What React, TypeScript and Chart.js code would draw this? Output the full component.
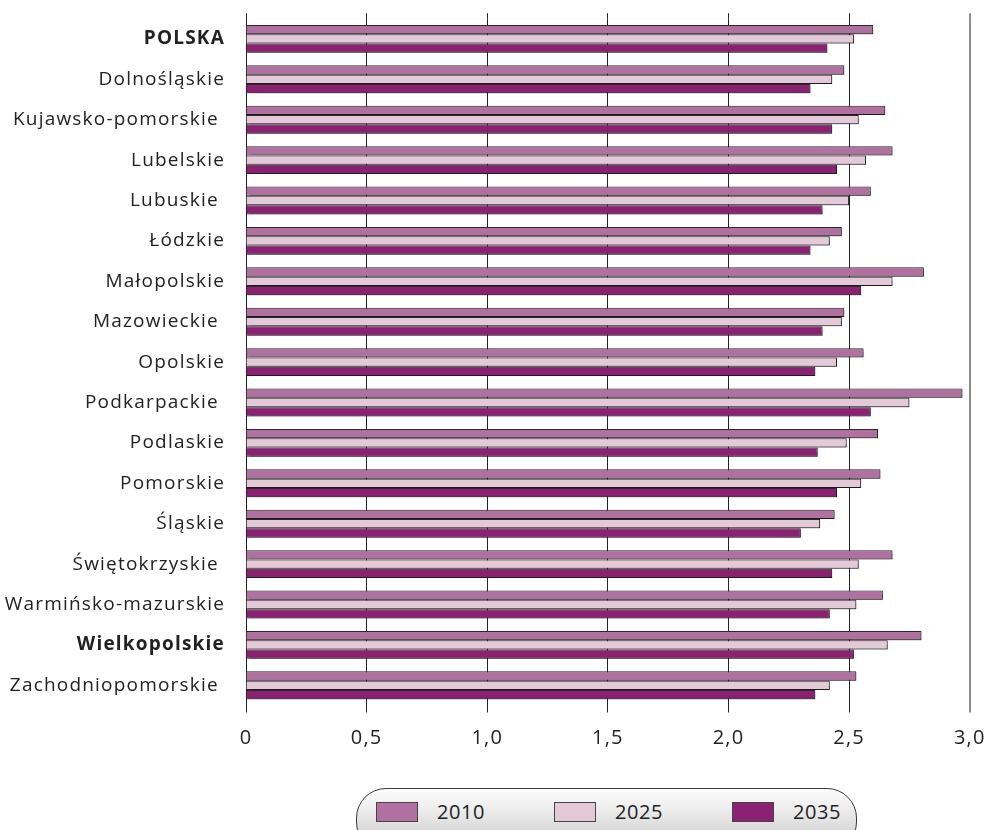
import React, { useEffect, useRef } from 'react';
import { Chart, registerables } from 'chart.js';

Chart.register(...registerables);

const categories = [
  'POLSKA',
  'Dolnośląskie',
  'Kujawsko-pomorskie ',
  'Lubelskie',
  'Lubuskie ',
  'Łódzkie',
  'Małopolskie',
  'Mazowieckie ',
  'Opolskie',
  'Podkarpackie ',
  'Podlaskie',
  'Pomorskie',
  'Śląskie',
  'Świętokrzyskie ',
  'Warmińsko-mazurskie',
  'Wielkopolskie',
  'Zachodniopomorskie ',
];
const boldCategories = ['POLSKA', 'Wielkopolskie'];

const series2010 = [2.60, 2.48, 2.65, 2.68, 2.59, 2.47, 2.81, 2.48, 2.56, 2.97, 2.62, 2.63, 2.44, 2.68, 2.64, 2.80, 2.53];
const series2025 = [2.52, 2.43, 2.54, 2.57, 2.50, 2.42, 2.68, 2.47, 2.45, 2.75, 2.49, 2.55, 2.38, 2.54, 2.53, 2.66, 2.42];
const series2035 = [2.41, 2.34, 2.43, 2.45, 2.39, 2.34, 2.55, 2.39, 2.36, 2.59, 2.37, 2.45, 2.30, 2.43, 2.42, 2.52, 2.36];

const seriesLabels = ['2010', '2025', '2035'];
const seriesColors = ['#B071A1', '#E4CAD8', '#8C2174'];
const xTickValues = [0, 0.5, 1, 1.5, 2, 2.5, 3];

const FONT = "'Open Sans', 'Liberation Sans', sans-serif";
const GRID_DARK = '#222222';
const GRID_LAST = '#8c8c8c';

const letterSpacingPlugin = {
  id: 'letterSpacingPlugin',
  beforeLayout(chart: any) {
    chart.ctx.letterSpacing = '1.2px';
  },
  beforeDraw(chart: any) {
    chart.ctx.letterSpacing = '1.2px';
  },
};

const shadowPlugin = {
  id: 'barShadow',
  beforeDatasetsDraw(chart: any) {
    const ctx = chart.ctx;
    ctx.save();
    ctx.shadowColor = 'rgba(0,0,0,0.35)';
    ctx.shadowOffsetX = 1;
    ctx.shadowOffsetY = 1;
    ctx.shadowBlur = 1;
  },
  afterDatasetsDraw(chart: any) {
    chart.ctx.restore();
  },
};

const gridTopPlugin = {
  id: 'gridTop',
  afterDraw(chart: any) {
    const ctx = chart.ctx;
    const xs = chart.scales.x;
    const top = chart.chartArea.top;
    ctx.save();
    xs.ticks.forEach((t: any) => {
      const last = t.value === 3;
      const w = last ? 2 : 1;
      const px = xs.getPixelForValue(t.value);
      const xx = Math.round(px - w / 2) + w / 2;
      ctx.strokeStyle = last ? GRID_LAST : GRID_DARK;
      ctx.lineWidth = w;
      ctx.beginPath();
      ctx.moveTo(xx, top - 5.5);
      ctx.lineTo(xx, top);
      ctx.stroke();
    });
    ctx.restore();
  },
};

function Legend() {
  return (
    <div
      style={{
        position: 'absolute',
        left: 356,
        top: 788,
        width: 501,
        height: 64,
        boxSizing: 'border-box',
        border: '1px solid #3a3a3a',
        borderRadius: 30,
        background: 'linear-gradient(to bottom, #fcfcfc 0px, #f2f2f2 14px, #d9d9d9 42px, #cfcfcf 64px)',
      }}
    >
      <div style={{ position: 'absolute', left: 19, top: 13, display: 'flex' }}>
        {seriesLabels.map((label, i) => (
          <div key={label} style={{ width: 178, display: 'flex', alignItems: 'center' }}>
            <div
              style={{
                width: 42,
                height: 20,
                boxSizing: 'border-box',
                border: '1px solid #444',
                background: seriesColors[i],
              }}
            />
            <span
              style={{
                marginLeft: 19,
                fontFamily: FONT,
                fontSize: 20,
                letterSpacing: '0.6px',
                lineHeight: '20px',
                color: '#222',
              }}
            >
              {label}
            </span>
          </div>
        ))}
      </div>
    </div>
  );
}

export default function App() {
  const canvasRef = useRef<HTMLCanvasElement | null>(null);

  useEffect(() => {
    if (!canvasRef.current) return;
    const seriesData = [series2010, series2025, series2035];
    const chart = new Chart(canvasRef.current, {
      type: 'bar',
      data: {
        labels: categories,
        datasets: seriesLabels.map((label, i) => ({
          label,
          data: seriesData[i],
          backgroundColor: seriesColors[i],
          borderColor: '#2a2a2a',
          borderWidth: 1,
          categoryPercentage: 0.69,
          barPercentage: 1.0,
        })),
      },
      options: {
        indexAxis: 'y',
        responsive: false,
        maintainAspectRatio: false,
        animation: false,
        layout: { padding: { top: 18.7, right: 17.3, left: 0, bottom: 0 } },
        plugins: {
          legend: { display: false },
          tooltip: { enabled: false },
        },
        scales: {
          x: {
            type: 'linear',
            min: 0,
            max: 3,
            afterBuildTicks: (scale: any) => {
              scale.ticks = xTickValues.map((v) => ({ value: v }));
            },
            afterFit: (scale: any) => {
              scale.height = 780 - 705.5;
              scale.paddingLeft = 0;
              scale.paddingRight = 0;
            },
            border: { display: false },
            grid: {
              display: true,
              drawOnChartArea: true,
              drawTicks: true,
              tickLength: 7,
              color: (ctx: any) => (ctx.tick && ctx.tick.value === 3 ? GRID_LAST : GRID_DARK),
              lineWidth: (ctx: any) => (ctx.tick && ctx.tick.value === 3 ? 2 : 1),
            },
            ticks: {
              padding: 14,
              color: '#222',
              font: { family: FONT, size: 20 },
              maxRotation: 0,
              callback: (v: any) => (v === 0 ? '0' : Number(v).toFixed(1).replace('.', ',')),
            },
          },
          y: {
            type: 'category',
            offset: true,
            afterFit: (scale: any) => {
              scale.width = 246;
              scale.paddingTop = 0;
              scale.paddingBottom = 0;
            },
            border: { display: false },
            grid: { display: false, drawTicks: false },
            ticks: {
              padding: 21,
              color: '#222',
              autoSkip: false,
              font: (ctx: any) => {
                const lbl = String(categories[ctx.index] || '').trim();
                return {
                  family: FONT,
                  size: 19,
                  weight: boldCategories.includes(lbl) ? 'bold' : 'normal',
                };
              },
            },
          },
        },
      },
      plugins: [letterSpacingPlugin, shadowPlugin, gridTopPlugin],
    } as any);
    return () => chart.destroy();
  }, []);

  return (
    <div
      style={{
        position: 'absolute',
        left: 0,
        top: 0,
        width: 987,
        height: 830,
        overflow: 'hidden',
        background: '#ffffff',
      }}
    >
      <canvas ref={canvasRef} width={987} height={780} style={{ display: 'block', width: 987, height: 780 }} />
      <Legend />
    </div>
  );
}
